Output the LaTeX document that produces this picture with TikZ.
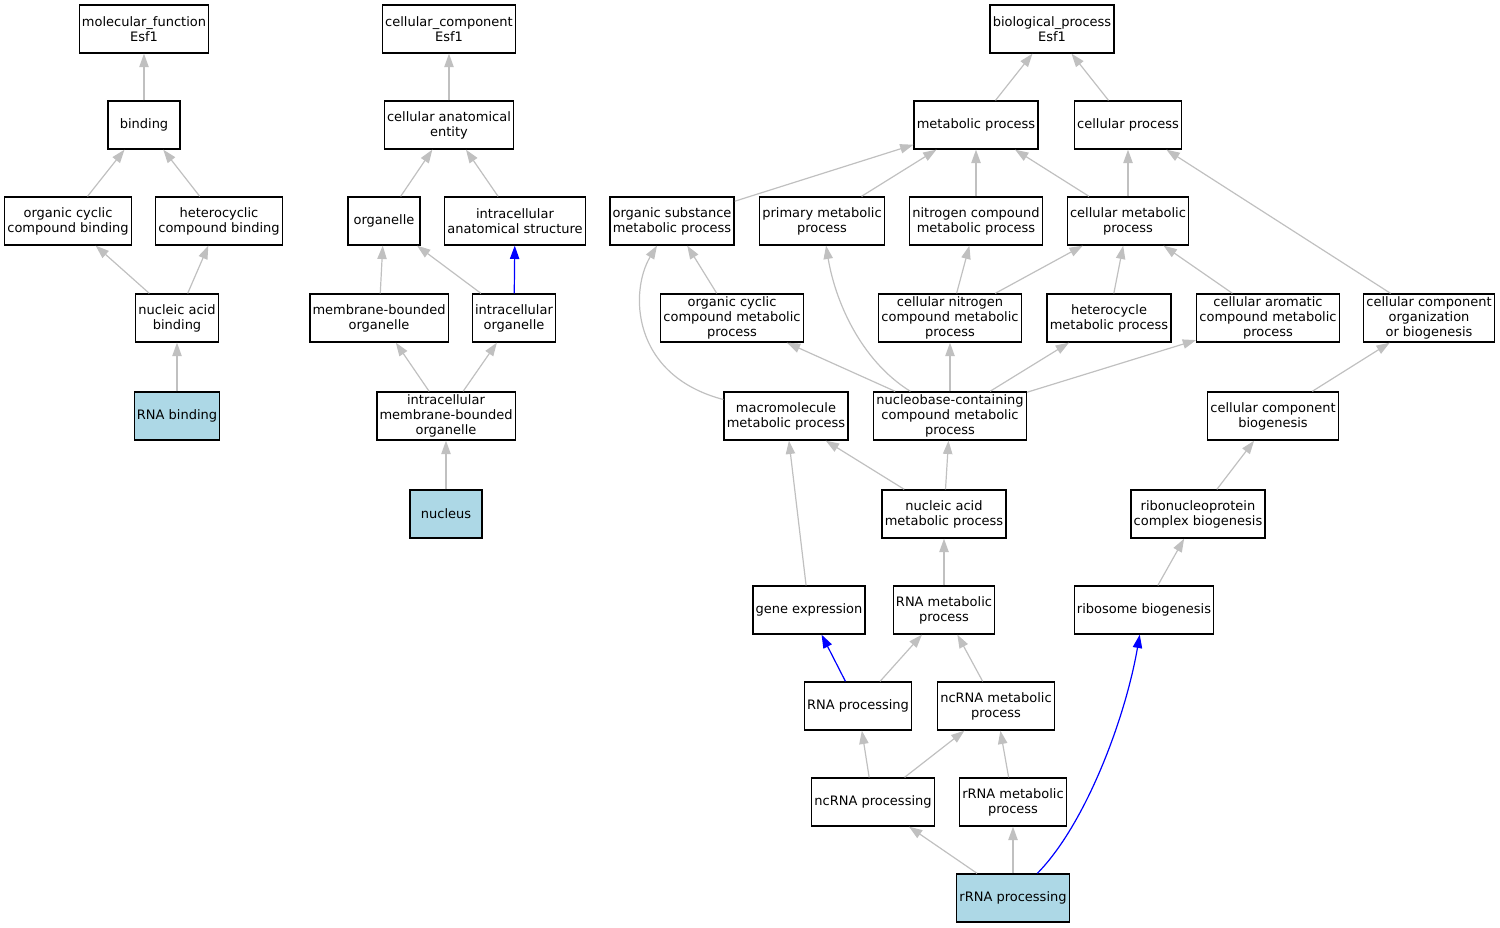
\documentclass[tikz,border=0pt]{standalone}
\usepackage{fontspec}
\setmainfont{DejaVu Sans}
\usetikzlibrary{arrows.meta}
\definecolor{edgegray}{RGB}{192,192,192}
\definecolor{leafblue}{RGB}{173,216,230}
\begin{document}
\begin{tikzpicture}[
            x=0.75pt, y=-0.75pt,
            every node/.style={draw,rectangle,line width=1pt,align=center,
                font=\fontsize{9.75}{11.25}\selectfont,
                minimum width=54pt,minimum height=36pt,inner xsep=2pt,inner ysep=1pt},
            leaf/.style={fill=leafblue},
            isa/.style={draw=edgegray,line width=0.9pt,-{Triangle[length=10pt,width=7pt]}},
            hl/.style={draw=blue,line width=0.9pt,-{Triangle[length=10pt,width=7pt]}}
            ]
            \useasboundingbox (0,0) rectangle (1500,928);
            % GO roots
            \node (mf) at (144,29) {molecular\_function\\Esf1};
            \node (cc) at (449,29) {cellular\_component\\Esf1};
            \node (bp) at (1052,29) {biological\_process\\Esf1};
            \node (bind) at (144,125) {binding};
            \node (cae) at (449,125) {cellular anatomical\\entity};
            \node (mp) at (976,125) {metabolic process};
            \node (cp) at (1128,125) {cellular process};
            \node (ocb) at (68,221) {organic cyclic\\compound binding};
            \node (hcb) at (219,221) {heterocyclic\\compound binding};
            \node (org) at (384,221) {organelle};
            \node (ias) at (515,221) {intracellular\\anatomical structure};
            \node (osmp) at (672,221) {organic substance\\metabolic process};
            \node (pmp) at (822,221) {primary metabolic\\process};
            \node (ncmp) at (976,221) {nitrogen compound\\metabolic process};
            \node (cmp) at (1128,221) {cellular metabolic\\process};
            \node (nab) at (177,318) {nucleic acid\\binding};
            \node (mbo) at (379,318) {membrane-bounded\\organelle};
            \node (io) at (514,318) {intracellular\\organelle};
            \node (occmp) at (732,318) {organic cyclic\\compound metabolic\\process};
            \node (cncmp) at (950,318) {cellular nitrogen\\compound metabolic\\process};
            \node (hmp) at (1109,318) {heterocycle\\metabolic process};
            \node (camp) at (1268,318) {cellular aromatic\\compound metabolic\\process};
            \node (ccob) at (1429,318) {cellular component\\organization\\or biogenesis};
            \node[leaf] (rnab) at (177,416) {RNA binding};
            \node (imbo) at (446,416) {intracellular\\membrane-bounded\\organelle};
            \node (mmp) at (786,416) {macromolecule\\metabolic process};
            \node (nbmp) at (950,416) {nucleobase-containing\\compound metabolic\\process};
            \node (ccb) at (1273,416) {cellular component\\biogenesis};
            \node[leaf] (nuc) at (446,514) {nucleus};
            \node (namp) at (944,514) {nucleic acid\\metabolic process};
            \node (rcb) at (1198,514) {ribonucleoprotein\\complex biogenesis};
            \node (ge) at (809,610) {gene expression};
            \node (rmp) at (944,610) {RNA metabolic\\process};
            \node (rb) at (1144,610) {ribosome biogenesis};
            \node (rp) at (858,706) {RNA processing};
            \node (ncrmp) at (996,706) {ncRNA metabolic\\process};
            \node (ncrp) at (873,802) {ncRNA processing};
            \node (rrmp) at (1013,802) {rRNA metabolic\\process};
            \node[leaf] (rrp) at (1013,898) {rRNA processing};
            % is_a edges, child to parent
            \draw[isa] (bind) -- (mf);
            \draw[isa] (ocb) -- (bind);
            \draw[isa] (hcb) -- (bind);
            \draw[isa] (nab) -- (ocb);
            \draw[isa] (nab) -- (hcb);
            \draw[isa] (rnab) -- (nab);
            \draw[isa] (cae) -- (cc);
            \draw[isa] (org) -- (cae);
            \draw[isa] (ias) -- (cae);
            \draw[isa] (mbo) -- (org);
            \draw[isa] (io) -- (org);
            \draw[hl] (io) -- (ias);
            \draw[isa] (imbo) -- (mbo);
            \draw[isa] (imbo) -- (io);
            \draw[isa] (nuc) -- (imbo);
            \draw[isa] (mp) -- (bp);
            \draw[isa] (cp) -- (bp);
            \draw[isa] (osmp) -- (mp);
            \draw[isa] (pmp) -- (mp);
            \draw[isa] (ncmp) -- (mp);
            \draw[isa] (cmp) -- (mp);
            \draw[isa] (cmp) -- (cp);
            \draw[isa] (ccob) -- (cp);
            \draw[isa] (occmp) -- (osmp);
            \draw[isa] (cncmp) -- (ncmp);
            \draw[isa] (cncmp) -- (cmp);
            \draw[isa] (hmp) -- (cmp);
            \draw[isa] (camp) -- (cmp);
            \draw[isa] (mmp) .. controls (630,375) and (630,290) .. (osmp);
            \draw[isa] (nbmp) .. controls (860,360) and (835,300) .. (pmp);
            \draw[isa] (nbmp) -- (occmp);
            \draw[isa] (nbmp) -- (cncmp);
            \draw[isa] (nbmp) -- (hmp);
            \draw[isa] (nbmp) -- (camp);
            \draw[isa] (ccb) -- (ccob);
            \draw[isa] (namp) -- (mmp);
            \draw[isa] (namp) -- (nbmp);
            \draw[isa] (rcb) -- (ccb);
            \draw[isa] (ge) -- (mmp);
            \draw[isa] (rmp) -- (namp);
            \draw[isa] (rb) -- (rcb);
            \draw[hl] (rp) -- (ge);
            \draw[isa] (rp) -- (rmp);
            \draw[isa] (ncrmp) -- (rmp);
            \draw[isa] (ncrp) -- (rp);
            \draw[isa] (ncrp) -- (ncrmp);
            \draw[isa] (rrmp) -- (ncrmp);
            \draw[isa] (rrp) -- (ncrp);
            \draw[isa] (rrp) -- (rrmp);
            \draw[hl] (rrp) .. controls (1085,825) and (1125,720) .. (rb);
        \end{tikzpicture}
\end{document}
